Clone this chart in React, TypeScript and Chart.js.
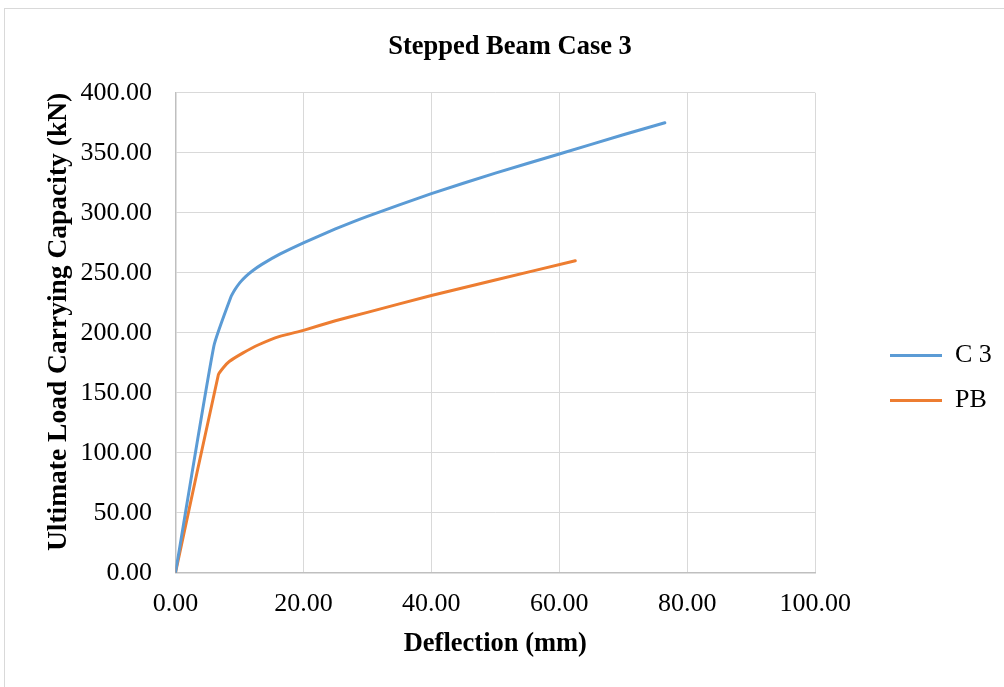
import React, { useEffect, useRef } from 'react';
import { Chart, registerables } from 'chart.js';

Chart.register(...registerables);

const chartTitle = 'Stepped Beam Case 3';
const xAxisTitle = 'Deflection (mm)';
const yAxisTitle = 'Ultimate Load Carrying Capacity (kN)';
const seriesNames = ['C 3', 'PB'];
const seriesColors = ['#5B9BD5', '#ED7D31'];

const c3Deflection = [0, 6.0, 8.6, 9.3, 10.1, 11.0, 12.0, 13.5, 16.3, 20, 25, 30, 40, 50, 60, 70, 76.5];
const c3Load = [0, 189, 229, 236, 242, 247, 251.5, 257, 265.5, 275, 286.5, 297, 316, 333, 349, 365, 375];
const pbDeflection = [0, 6.7, 7.5, 8.4, 10.5, 13, 16.3, 20, 25, 30, 40, 50, 62.5];
const pbLoad = [0, 165, 171, 176, 183, 190, 197, 202, 210, 217, 231, 244, 260];

const xTickValues = [0, 20, 40, 60, 80, 100];
const yTickValues = [0, 50, 100, 150, 200, 250, 300, 350, 400];

const FONT = "'Liberation Serif', 'Times New Roman', serif";

const placement = {
  id: 'placement',
  afterLayout(chart: any) {
    const lg = chart.legend;
    if (lg) {
      const pad = lg.options.labels.padding;
      const dx = 890 - (lg.left + pad);
      lg.left += dx;
      lg.right += dx;
      const dy = 378 - (lg.top + lg.bottom) / 2;
      lg.top += dy;
      lg.bottom += dy;
    }
    const tb = chart.titleBlock;
    if (tb) {
      const dx = 510 - (tb.left + tb.right) / 2;
      tb.left += dx;
      tb.right += dx;
    }
  },
};

export default function App() {
  const ref = useRef<HTMLCanvasElement | null>(null);

  useEffect(() => {
    if (!ref.current) return;
    const toPts = (xs: number[], ys: number[]) => xs.map((x, i) => ({ x, y: ys[i] }));
    const chart = new Chart(ref.current, {
      type: 'line',
      data: {
        datasets: [
          {
            label: seriesNames[0],
            data: toPts(c3Deflection, c3Load),
            borderColor: seriesColors[0],
            backgroundColor: seriesColors[0],
            borderWidth: 3,
            pointRadius: 0,
            tension: 0.15,
            borderCapStyle: 'round',
            borderJoinStyle: 'round',
            fill: false,
          },
          {
            label: seriesNames[1],
            data: toPts(pbDeflection, pbLoad),
            borderColor: seriesColors[1],
            backgroundColor: seriesColors[1],
            borderWidth: 3,
            pointRadius: 0,
            tension: 0.15,
            borderCapStyle: 'round',
            borderJoinStyle: 'round',
            fill: false,
          },
        ],
      },
      options: {
        responsive: false,
        animation: false,
        devicePixelRatio: 1,
        layout: { padding: { left: 16, right: 58, top: 0, bottom: 0 } },
        plugins: {
          title: {
            display: true,
            text: chartTitle,
            color: '#000',
            font: { family: FONT, size: 26.5, weight: 'bold' },
            padding: { top: 31, bottom: 30 },
          },
          legend: {
            display: true,
            position: 'right',
            labels: {
              usePointStyle: true,
              pointStyle: 'line',
              pointStyleWidth: 52,
              padding: 19,
              color: '#000',
              font: { family: FONT, size: 26 },
            },
          },
          tooltip: { enabled: false },
        },
        scales: {
          x: {
            type: 'linear',
            min: xTickValues[0],
            max: xTickValues[xTickValues.length - 1],
            afterBuildTicks: (s: any) => {
              s.ticks = xTickValues.map((v) => ({ value: v }));
            },
            afterFit: (s: any) => {
              s.height = 114.3;
            },
            ticks: {
              color: '#000',
              padding: 15.7,
              font: { family: FONT, size: 26 },
              callback: (v: any) => Number(v).toFixed(2),
              maxRotation: 0,
            },
            grid: { color: '#d9d9d9', lineWidth: 1, drawTicks: false },
            border: { color: '#bfbfbf', width: 1.5 },
            title: {
              display: true,
              text: xAxisTitle,
              color: '#000',
              font: { family: FONT, size: 26.5, weight: 'bold' },
              padding: { top: 0, bottom: 27 },
            },
          },
          y: {
            type: 'linear',
            min: yTickValues[0],
            max: yTickValues[yTickValues.length - 1],
            afterBuildTicks: (s: any) => {
              s.ticks = yTickValues.map((v) => ({ value: v }));
            },
            afterFit: (s: any) => {
              s.width = 159.5;
            },
            ticks: {
              color: '#000',
              padding: 23.5,
              font: { family: FONT, size: 26 },
              callback: (v: any) => Number(v).toFixed(2),
            },
            grid: { color: '#d9d9d9', lineWidth: 1, drawTicks: false },
            border: { color: '#bfbfbf', width: 1.5 },
            title: {
              display: true,
              text: yAxisTitle,
              align: 'end',
              color: '#000',
              font: { family: FONT, size: 27.5, weight: 'bold' },
              padding: { top: 26, bottom: 0 },
            },
          },
        },
      } as any,
      plugins: [placement],
    });
    return () => chart.destroy();
  }, []);

  return (
    <div
      style={{
        position: 'fixed',
        left: 0,
        top: 0,
        width: 1004,
        height: 687,
        overflow: 'hidden',
        background: '#fff',
      }}
    >
      <div
        style={{
          position: 'absolute',
          left: 4,
          top: 8,
          width: 1100,
          height: 800,
          border: '1px solid #d9d9d9',
        }}
      />
      <canvas
        ref={ref}
        width={1004}
        height={687}
        style={{ position: 'absolute', left: 0, top: 0, width: 1004, height: 687 }}
      />
    </div>
  );
}
